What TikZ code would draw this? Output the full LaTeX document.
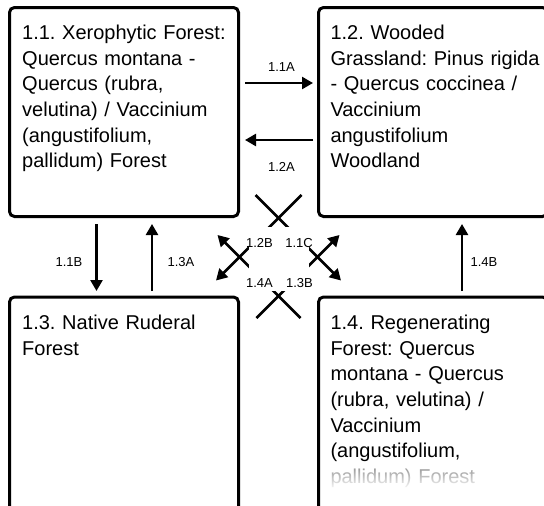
\documentclass[tikz,border=0pt]{standalone}
\usepackage{fontspec}
\setmainfont{Liberation Sans}
\usetikzlibrary{arrows.meta,fadings}
\tikzfading[name=fadedown, top color=transparent!45, bottom color=transparent!0]
\begin{document}
\frenchspacing
\begin{tikzpicture}[x=1pt,y=-1pt,
  statebox/.style={draw=black, line width=3pt, rounded corners=5pt, inner sep=0pt, minimum width=229pt},
  arr/.style={line width=2.5pt, -{Triangle[length=11pt,width=12pt]}},
  lbl/.style={font=\fontsize{13}{15}\selectfont, inner sep=0pt},
  boxtext/.style={font=\fontsize{20}{25.7}\selectfont, anchor=base west, inner sep=0pt, text width=226pt, align=left}]
\clip (0,0) rectangle (544,506);
\fill[white] (0,0) rectangle (544,506);
% state boxes
\node[statebox, minimum height=209pt] (b11) at (124,112) {};
\node[statebox, minimum height=209pt] (b12) at (433,112) {};
\node[statebox, minimum height=215pt] (b13) at (124,404.5) {};
\node[statebox, minimum height=215pt] (b14) at (433,404.5) {};
% box texts
\node[boxtext] (t11) at (22,39.3) {1.1. Xerophytic Forest:\\Quercus montana -\\Quercus (rubra,\\velutina) / Vaccinium\\(angustifolium,\\pallidum) Forest};
\node[boxtext] (t12) at (330.3,39.3) {1.2. Wooded\\Grassland: Pinus rigida\\- Quercus coccinea /\\Vaccinium\\angustifolium\\Woodland};
\node[boxtext] (t13) at (22,329.3) {1.3. Native Ruderal\\Forest};
\node[boxtext] (t14) at (330.3,329.3) {1.4. Regenerating\\Forest: Quercus\\montana - Quercus\\(rubra, velutina) /\\Vaccinium\\(angustifolium,\\pallidum) Forest};
\fill[white, path fading=fadedown] (325,465) rectangle (530,490);
% horizontal transitions
\draw[arr] ([shift={(5,-29)}]b11.east) -- ([shift={(-4,-29)}]b12.west);
\draw[arr] ([shift={(-4,28)}]b12.west) -- ([shift={(5,28)}]b11.east);
% vertical transitions
\draw[arr] ([shift={(-27.5,6)}]b11.south) -- ([shift={(-27.5,-4.5)}]b13.north);
\draw[arr] ([shift={(28,-4.5)}]b13.north) -- ([shift={(28,6)}]b11.south);
\draw[arr] ([shift={(29,-4.5)}]b14.north) -- ([shift={(29,6)}]b12.south);
% diagonal transitions
\coordinate (d11c) at (255.5,195);   \coordinate (e11c) at (341,280.5);
\coordinate (d12b) at (301.5,195);   \coordinate (e12b) at (216,280.5);
\coordinate (d13b) at (256.5,318);   \coordinate (e13b) at (339.5,235);
\coordinate (d14a) at (300.5,318);   \coordinate (e14a) at (217.5,235);
\draw[arr] (d11c) -- (e11c);
\draw[arr] (d12b) -- (e12b);
\draw[arr] (d13b) -- (e13b);
\draw[arr] (d14a) -- (e14a);
\fill[white] (249,227) rectangle (309,291);
% labels
\node[lbl] (l11a) at (281.5,67) {1.1A};
\node[lbl] (l12a) at (281.5,167) {1.2A};
\node[lbl] (l11b) at (69,261.7) {1.1B};
\node[lbl] (l13a) at (181,261.7) {1.3A};
\node[lbl] (l14b) at (484,261.7) {1.4B};
\node[lbl] (l12b) at (259.5,243) {1.2B};
\node[lbl] (l11c) at (299,243) {1.1C};
\node[lbl] (l14a) at (259.5,283) {1.4A};
\node[lbl] (l13b) at (299.5,283) {1.3B};
\end{tikzpicture}
\end{document}
